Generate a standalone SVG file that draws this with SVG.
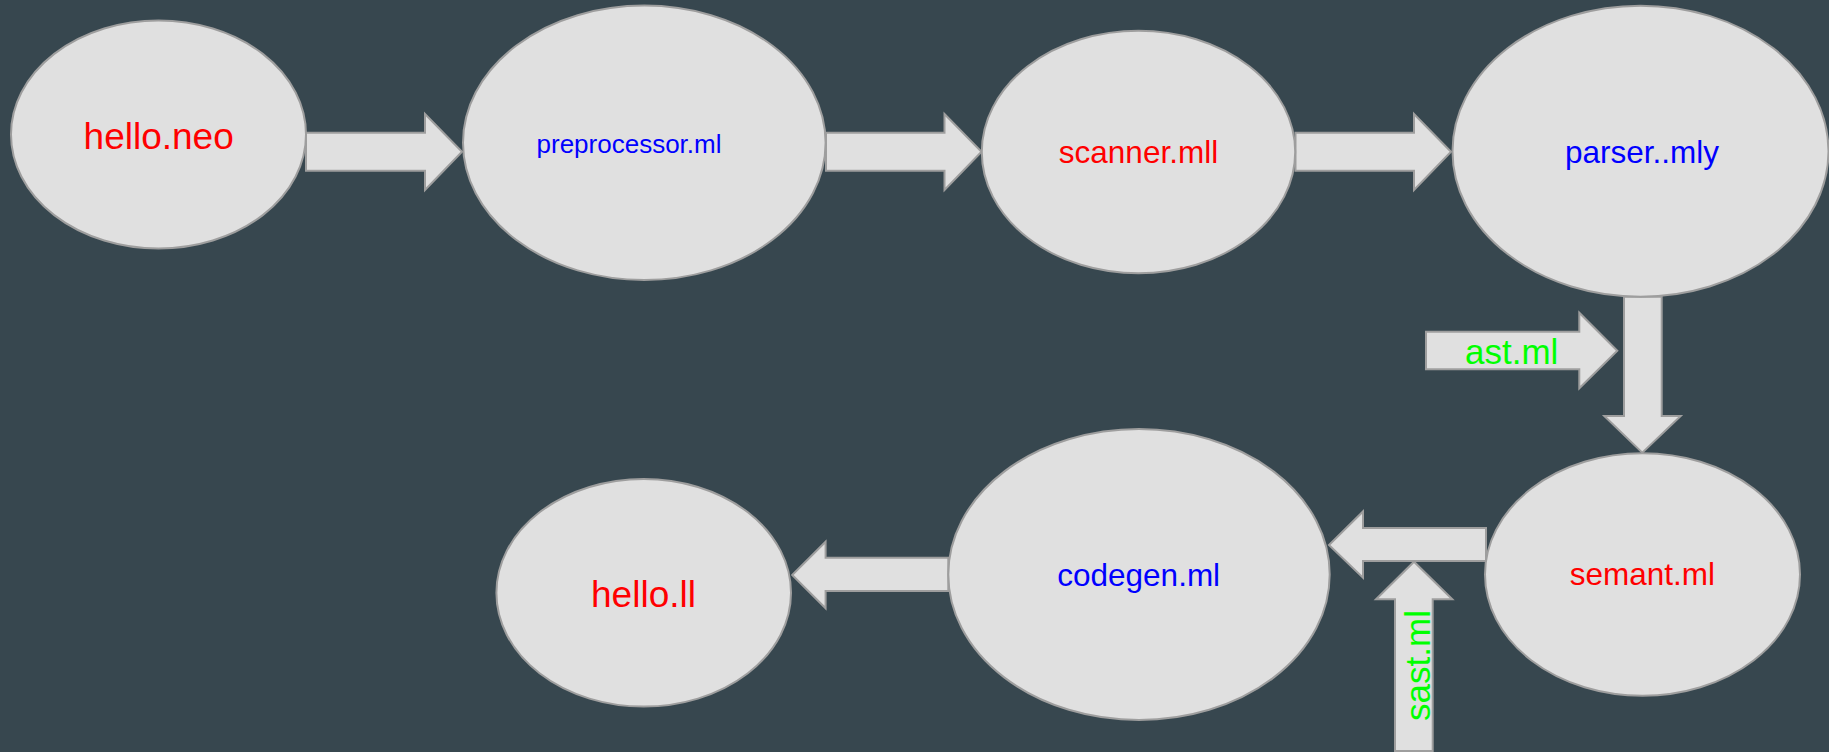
<svg xmlns="http://www.w3.org/2000/svg" width="1829" height="752" viewBox="0 0 1829 752">
<style>
.node{fill:#e0e0e0;stroke:#9e9e9e;stroke-width:2}
.arr{fill:#e0e0e0;stroke:#9e9e9e;stroke-width:2;stroke-linejoin:miter}
text{font-family:"Liberation Sans",Arial,sans-serif;text-anchor:middle}
.red{fill:#ff0000}.blue{fill:#0000ff}.green{fill:#00ff00}
</style>
<rect width="1829" height="752" fill="#37474f"/>
<g id="connectors">
<polygon class="arr" points="306,132.7 425,132.7 425,114 462,151.7 425,190 425,170.7 306,170.7"/>
<polygon class="arr" points="826,132.7 944.5,132.7 944.5,114 981.5,151.7 944.5,190 944.5,170.7 826,170.7"/>
<polygon class="arr" points="1295.5,132.7 1414,132.7 1414,114 1451,151.7 1414,190 1414,170.7 1295.5,170.7"/>
<polygon class="arr" points="1624,296.7 1661.7,296.7 1661.7,416 1680.7,416 1642.3,452.7 1604.3,416 1624,416"/>
<g id="ast-arrow">
<polygon class="arr" points="1426,331.7 1579.3,331.7 1579.3,312.7 1617.3,350.7 1579.3,388.3 1579.3,369.3 1426,369.3"/>
<text class="green" x="1511.7" y="364.3" font-size="35">ast.ml</text>
</g>
<polygon class="arr" points="1486,528 1363,528 1363,511.5 1329,545 1363,577.7 1363,561 1486,561"/>
<polygon class="arr" points="948.3,557.7 825.6,557.7 825.6,541.7 792.2,575 825.6,608.3 825.6,591 948.3,591"/>
<g id="sast-arrow">
<polygon class="arr" points="1395,751 1395,599.3 1376,599.3 1414,561.7 1452.3,599.3 1432.7,599.3 1432.7,751"/>
<text class="green" x="1429.5" y="665.5" font-size="35" transform="rotate(-90 1429.5 665.5)">sast.ml</text>
</g>
</g>
<g id="hello-neo"><ellipse class="node" cx="158.5" cy="134.5" rx="147.5" ry="114"/><text class="red" x="158.7" y="149" font-size="37">hello.neo</text></g>
<g id="preprocessor"><ellipse class="node" cx="644.3" cy="142.8" rx="181.3" ry="137.2"/><text class="blue" x="629" y="153" font-size="26">preprocessor.ml</text></g>
<g id="scanner"><ellipse class="node" cx="1138.5" cy="152" rx="156.7" ry="121.3"/><text class="red" x="1138.5" y="163.3" font-size="31.5">scanner.mll</text></g>
<g id="parser"><ellipse class="node" cx="1640.5" cy="151.2" rx="188" ry="145.5"/><text class="blue" x="1642" y="163.3" font-size="31.5">parser..mly</text></g>
<g id="semant"><ellipse class="node" cx="1642.5" cy="574.5" rx="157.5" ry="121.2"/><text class="red" x="1642.3" y="585" font-size="31.5">semant.ml</text></g>
<g id="codegen"><ellipse class="node" cx="1139" cy="574.5" rx="190.7" ry="145.5"/><text class="blue" x="1138.7" y="585.7" font-size="31.5">codegen.ml</text></g>
<g id="hello-ll"><ellipse class="node" cx="643.7" cy="592.8" rx="147.3" ry="113.8"/><text class="red" x="643.5" y="606.7" font-size="37">hello.ll</text></g>
</svg>
